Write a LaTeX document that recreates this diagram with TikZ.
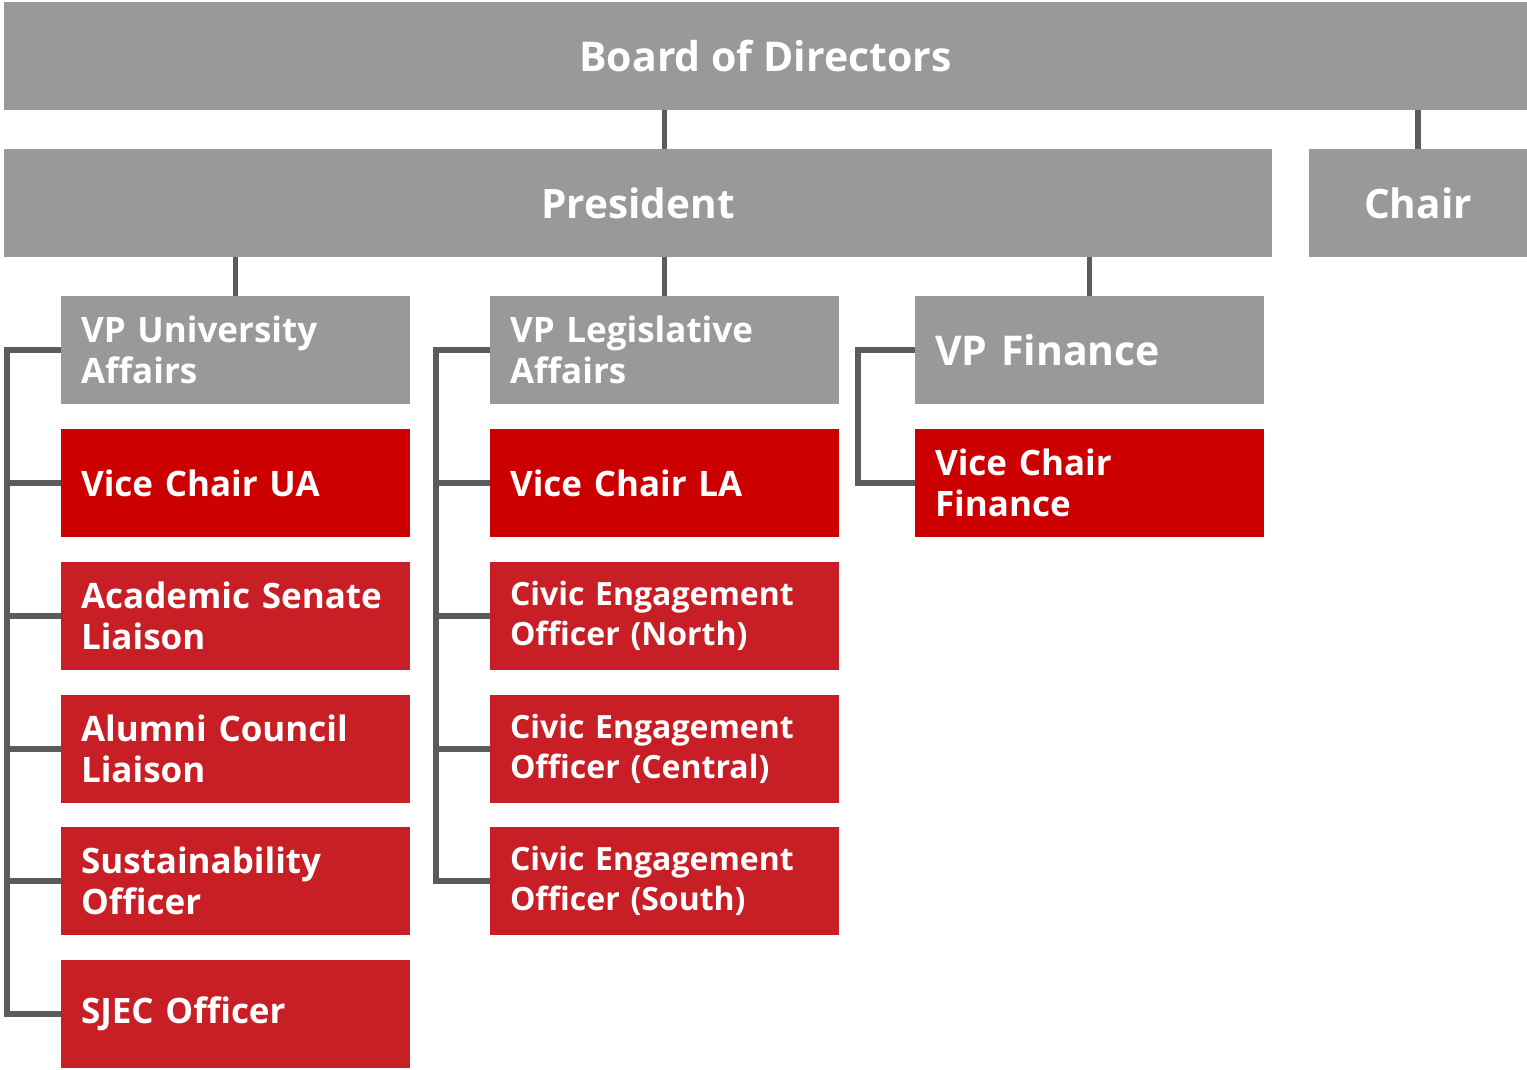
\documentclass[tikz,border=0pt]{standalone}
\usepackage{fontspec}
\setmainfont{Open Sans}
\definecolor{boxgray}{HTML}{999999}
\definecolor{linegray}{HTML}{5B5B5B}
\definecolor{vcred}{HTML}{CC0000}
\definecolor{offred}{HTML}{C81F27}
\begin{document}
\begin{tikzpicture}[x=1pt, y=-1pt,
    box/.style={minimum height=108pt, inner sep=0pt, text=white},
    head/.style={box, fill=boxgray, font=\bfseries\fontsize{40.5}{46}\selectfont},
    role/.style={box, minimum width=349pt, inner xsep=20pt, text width=309pt, align=left,
      font=\bfseries\fontsize{35}{41}\selectfont},
    vp/.style={role, fill=boxgray},
    vc/.style={role, fill=vcred},
    officer/.style={role, fill=offred},
    link/.style={draw=linegray, line width=5.5pt, line join=miter}]
  \useasboundingbox (0,0) rectangle (1527,1070);

  \node[head, minimum width=1523pt, font=\bfseries\fontsize{41}{46}\selectfont] (board) at (765.5,56) {Board of Directors};
  \node[head, minimum width=1268pt] (president) at (638,203) {President};
  \node[head, minimum width=218pt] (chair) at (1418,203) {Chair};

  % vice presidents
  \node[vp] (vpua) at (235.5,350) {VP University\\Affairs};
  \node[vp] (vpla) at (664.5,350) {VP Legislative\\Affairs};
  \node[vp, font=\bfseries\fontsize{41}{48}\selectfont] (vpfin) at (1089.5,350) {VP Finance};

  % university affairs
  \node[vc] (ua1) at (235.5,483) {Vice Chair UA};
  \node[officer] (ua2) at (235.5,616) {Academic Senate\\Liaison};
  \node[officer] (ua3) at (235.5,749) {Alumni Council\\Liaison};
  \node[officer] (ua4) at (235.5,881) {Sustainability\\Officer};
  \node[officer] (ua5) at (235.5,1014) {SJEC Officer};

  % legislative affairs
  \node[vc] (la1) at (664.5,483) {Vice Chair LA};
  \node[officer, font=\bfseries\fontsize{32}{40}\selectfont] (la2) at (664.5,616) {Civic Engagement\\Officer (North)};
  \node[officer, font=\bfseries\fontsize{32}{40}\selectfont] (la3) at (664.5,749) {Civic Engagement\\Officer (Central)};
  \node[officer, font=\bfseries\fontsize{32}{40}\selectfont] (la4) at (664.5,881) {Civic Engagement\\Officer (South)};

  % finance
  \node[vc] (fin1) at (1089.5,483) {Vice Chair\\Finance};

  \draw[link] (board.south -| vpla) -- (president.north -| vpla);
  \draw[link] (board.south -| chair) -- (chair.north);
  \draw[link] (president.south -| vpua) -- (vpua.north);
  \draw[link] (president.south -| vpla) -- (vpla.north);
  \draw[link] (president.south -| vpfin) -- (vpfin.north);

  \draw[link] (vpua.west) -- ++(-54,0) |- (ua1.west);
  \draw[link] (vpua.west) -- ++(-54,0) |- (ua2.west);
  \draw[link] (vpua.west) -- ++(-54,0) |- (ua3.west);
  \draw[link] (vpua.west) -- ++(-54,0) |- (ua4.west);
  \draw[link] (vpua.west) -- ++(-54,0) |- (ua5.west);

  \draw[link] (vpla.west) -- ++(-54,0) |- (la1.west);
  \draw[link] (vpla.west) -- ++(-54,0) |- (la2.west);
  \draw[link] (vpla.west) -- ++(-54,0) |- (la3.west);
  \draw[link] (vpla.west) -- ++(-54,0) |- (la4.west);

  \draw[link] (vpfin.west) -- ++(-57,0) |- (fin1.west);
\end{tikzpicture}
\end{document}
